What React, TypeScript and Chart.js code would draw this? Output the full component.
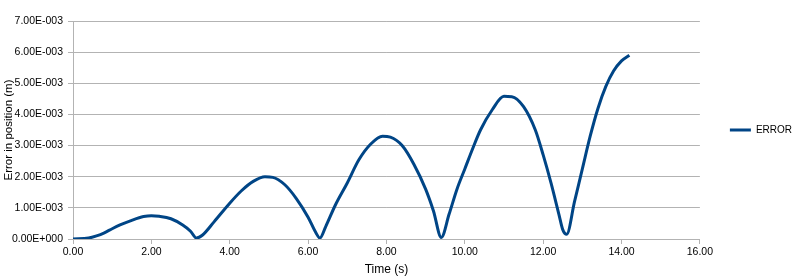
import React, { useEffect, useRef } from "react";
import { Chart, registerables } from "chart.js";

Chart.register(...registerables);

const seriesName = "ERROR";
const times = [
  0.0, 0.4, 0.6, 0.8, 1.0, 1.2, 1.5, 1.8, 2.0, 2.2, 2.5, 2.8, 3.0, 3.15, 3.3, 3.6,
  4.0, 4.3, 4.6, 4.9, 5.1, 5.4, 5.7, 6.0, 6.2, 6.3, 6.45, 6.7, 7.0, 7.3, 7.6, 7.9,
  8.1, 8.4, 8.7, 9.0, 9.2, 9.4, 9.6, 9.8, 10.0, 10.2, 10.4, 10.7, 11.0, 11.2, 11.5,
  11.8, 12.0, 12.2, 12.4, 12.5, 12.6, 12.8, 13.0, 13.2, 13.4, 13.6, 13.8, 14.0, 14.2,
];
// error in position, in units of 1e-3 m
const errorsMilli = [
  0.0, 0.03, 0.1, 0.2, 0.33, 0.45, 0.6, 0.72, 0.75, 0.73, 0.65, 0.45, 0.25, 0.03, 0.12, 0.55,
  1.15, 1.55, 1.85, 2.0, 1.98, 1.75, 1.3, 0.7, 0.2, 0.03, 0.4, 1.1, 1.8, 2.55, 3.05, 3.3,
  3.27, 3.0, 2.4, 1.6, 0.9, 0.05, 0.8, 1.6, 2.25, 2.9, 3.5, 4.15, 4.58, 4.57, 4.25,
  3.5, 2.7, 1.8, 0.8, 0.3, 0.15, 1.2, 2.25, 3.3, 4.2, 4.9, 5.4, 5.72, 5.9,
];
const xTicks = [0, 2, 4, 6, 8, 10, 12, 14, 16];
const yTicksMilli = [0, 1, 2, 3, 4, 5, 6, 7];
const xTitle = "Time (s)";
const yTitle = "Error in position (m)";

function fmtY(v: number): string {
  if (Math.abs(v) < 1e-12) return "0.00E+000";
  return (v * 1000).toFixed(2) + "E-003";
}

export default function App() {
  const ref = useRef<HTMLCanvasElement | null>(null);
  useEffect(() => {
    if (!ref.current) return;
    const fam = "'Liberation Sans', Arial, sans-serif";
    const tickFont = { family: fam, size: 10.5 };
    const xTitleFont = { family: fam, size: 12 };
    const yTitleFont = { family: fam, size: 11.5 };
    const legendFont = { family: fam, size: 10 };
    const chart = new Chart(ref.current, {
      type: "scatter",
      data: {
        datasets: [
          {
            label: seriesName,
            data: times.map((t, i) => ({ x: t, y: errorsMilli[i] / 1000 })),
            showLine: true,
            borderColor: "#004586",
            backgroundColor: "#004586",
            borderWidth: 3,
            pointRadius: 0,
            tension: 0.4,
            cubicInterpolationMode: "monotone",
          } as any,
        ],
      },
      options: {
        animation: false,
        responsive: false,
        layout: { padding: { top: 21, right: -2, left: 0, bottom: 0 } },
        plugins: {
          tooltip: { enabled: false },
          legend: {
            position: "right",
            fullSize: false,
            labels: {
              font: legendFont,
              color: "#000",
              usePointStyle: true,
              pointStyle: "line",
              pointStyleWidth: 21,
              padding: 30,
            },
          },
        },
        scales: {
          x: {
            type: "linear",
            min: xTicks[0],
            max: xTicks[xTicks.length - 1],
            afterBuildTicks: (s: any) => {
              s.ticks = xTicks.map((v) => ({ value: v }));
            },
            afterFit: (s: any) => {
              s.height = 39;
            },
            ticks: { font: tickFont, color: "#000", padding: 2, callback: (v: any) => Number(v).toFixed(2) },
            grid: { drawOnChartArea: false, drawTicks: true, tickLength: 5, color: "#b3b3b3" },
            border: { color: "#b3b3b3" },
            title: { display: true, text: xTitle, font: xTitleFont, color: "#000", padding: { top: 2, bottom: 1 } },
          },
          y: {
            type: "linear",
            min: 0,
            max: 0.007,
            afterBuildTicks: (s: any) => {
              s.ticks = yTicksMilli.map((v) => ({ value: v / 1000 }));
            },
            afterFit: (s: any) => {
              s.width = 73;
            },
            ticks: { font: tickFont, color: "#000", padding: 5, callback: (v: any) => fmtY(Number(v)) },
            grid: { color: "#b3b3b3", tickLength: 5 },
            border: { color: "#b3b3b3" },
            title: { display: true, text: yTitle, font: yTitleFont, color: "#000", padding: { top: 2, bottom: 2 } },
          },
        },
      },
    });
    return () => chart.destroy();
  }, []);
  return (
    <div style={{ position: "absolute", left: 0, top: 0, width: 800, height: 278, background: "#fff" }}>
      <canvas ref={ref} width={800} height={278} />
    </div>
  );
}
